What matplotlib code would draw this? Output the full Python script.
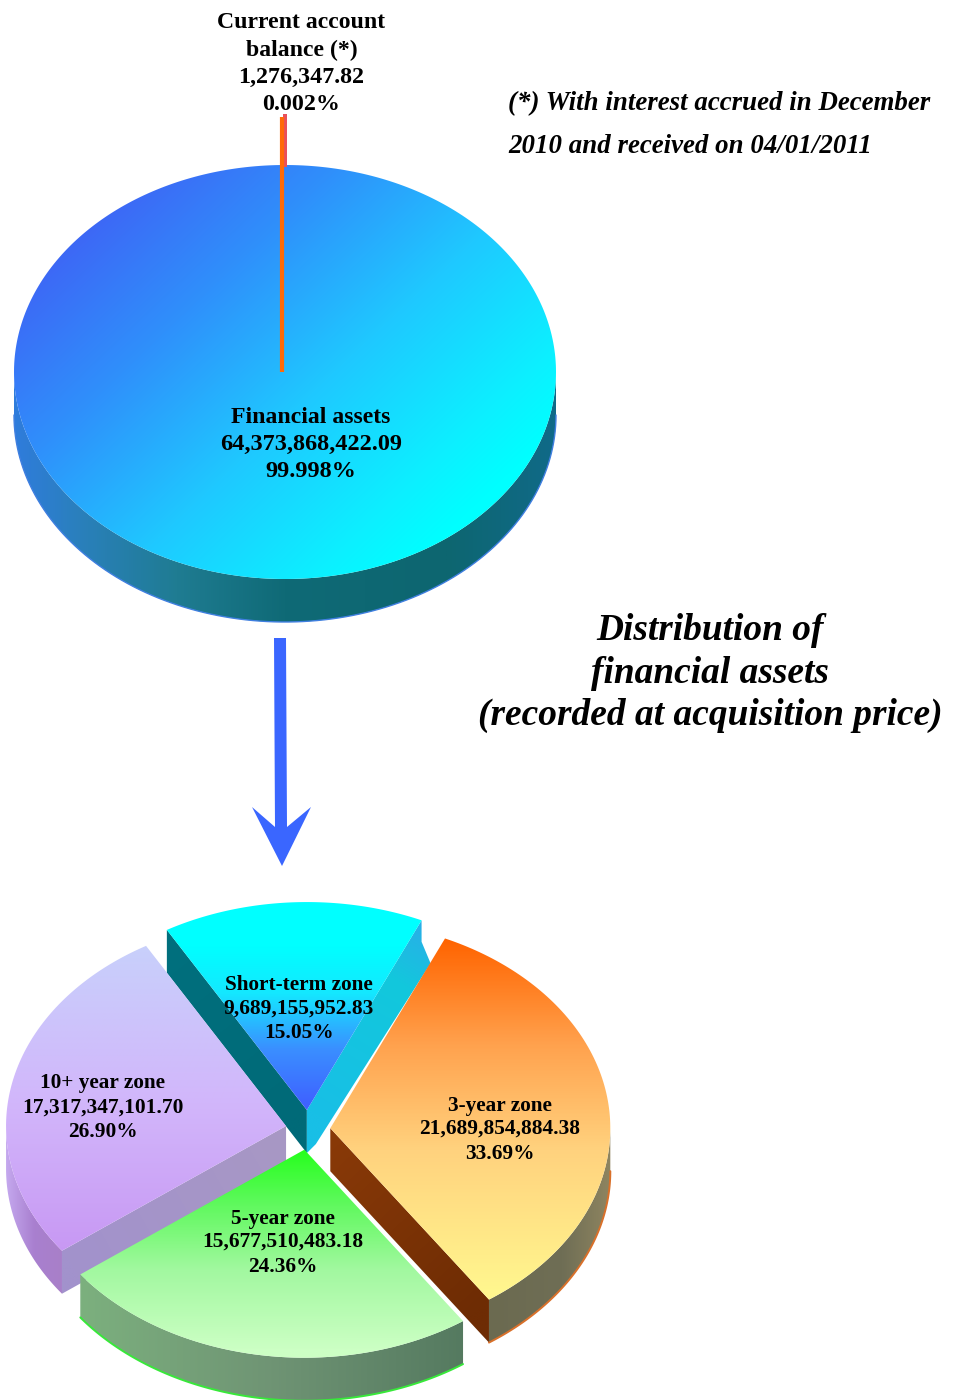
import numpy as np
import matplotlib
matplotlib.use("Agg")
import matplotlib.pyplot as plt
from matplotlib.path import Path
from matplotlib.patches import PathPatch, Polygon
from matplotlib.colors import LinearSegmentedColormap

# ---- data -------------------------------------------------------------
top_categories = ["Financial assets", "Current account\nbalance (*)"]
top_values = [64373868422.09, 1276347.82]
top_shares = ["99.998%", "0.002%"]

zone_categories = ["Short-term zone", "3-year zone", "5-year zone", "10+ year zone"]
zone_values = [9689155952.83, 21689854884.38, 15677510483.18, 17317347101.70]
zone_shares = ["15.05%", "33.69%", "24.36%", "26.90%"]

note_lines = ["(*) With interest accrued in December", "2010 and received on 04/01/2011"]
title_lines = ["Distribution of", "financial assets", "(recorded at acquisition price)"]

# ---- canvas -----------------------------------------------------------
fig = plt.figure(figsize=(9.56, 14.0), dpi=100)
ax = fig.add_axes([0, 0, 1, 1])
ax.axis("off")
SERIF = "Liberation Serif"


def arc(cx, cy, rx, ry, a1, a2, n=120):
    t = np.radians(np.linspace(a1, a2, n))
    return np.column_stack([cx + rx * np.cos(t), cy - ry * np.sin(t)])


def grad(verts, stops, p0, p1, z):
    """Fill a polygon with a linear gradient running from point p0 to p1."""
    verts = np.asarray(verts)
    path = Path(np.vstack([verts, verts[:1]]), closed=True)
    x0, y0 = verts.min(axis=0) - 2
    x1, y1 = verts.max(axis=0) + 2
    xs = np.linspace(x0, x1, max(int(x1 - x0), 2))
    ys = np.linspace(y0, y1, max(int(y1 - y0), 2))
    X, Y = np.meshgrid(xs, ys)
    d = np.array(p1, float) - np.array(p0, float)
    T = ((X - p0[0]) * d[0] + (Y - p0[1]) * d[1]) / (d @ d)
    cmap = LinearSegmentedColormap.from_list("g", [(p, c) for p, c in stops])
    im = ax.imshow(np.clip(T, 0, 1), cmap=cmap, vmin=0, vmax=1, aspect="auto",
                   extent=(x0, x1, y1, y0), origin="upper", zorder=z,
                   interpolation="bilinear")
    patch = PathPatch(path, transform=ax.transData, fc="none", ec="none")
    ax.add_patch(patch)
    im.set_clip_path(patch)


def rim(points, color, z, lw=1.4):
    pts = np.asarray(points)
    ax.plot(pts[:, 0], pts[:, 1], color=color, lw=lw, zorder=z, solid_capstyle="round")


def line_text(x, y, s, size, style="normal", weight="bold", z=30):
    ax.text(x, y, s, family=SERIF, fontsize=size, fontweight=weight, fontstyle=style,
            ha="center", va="baseline", color="black", zorder=z)


# ---- upper pie --------------------------------------------------------
CX, CY, RX, RY, DEPTH = 285, 372, 271, 207, 43
upper_share = top_values[1] / sum(top_values)
front = arc(CX, CY, RX, RY, 180, 360)
wall = np.vstack([front, (front + [0, DEPTH])[::-1]])
grad(wall, [(0, "#2f7cdc"), (0.12, "#2a80bc"), (0.3, "#1f7c92"), (0.5, "#0f6a76"), (0.8, "#0d6670"), (1, "#106a88")],
     (CX - RX, 0), (CX + RX, 0), 2)
rim(front + [0, DEPTH], "#3f7fe0", 2.5, lw=1.0)
disc = arc(CX, CY, RX, RY, 0, 360, 360)
grad(disc, [(0, "#3f62f5"), (0.3, "#2f90fb"), (0.6, "#1fc8ff"), (0.88, "#0cf0ff"), (1, "#00ffff")],
     (85, 205), (420, 560), 3)

# sliver of the current account balance, drawn thicker than its true angle
sliver_deg = 90 + 360 * upper_share
sx = 282
tip_top = arc(sx, CY, 0, RY + 50, sliver_deg, sliver_deg, 1)[0]
ax.fill_between([sx + 1.5, sx + 5], [CY - RY + 2] * 2, [tip_top[1] - 1] * 2, color="#e9505a", lw=0, zorder=4)
ax.plot([sx, sx], [CY, tip_top[1] + 2], color="#ff6a08", lw=3.0, zorder=5, solid_capstyle="butt")

for y, s in zip([28, 56], top_categories[1].split("\n")):
    line_text(301.5, y, s, 17.1)
line_text(301.5, 83, f"{top_values[1]:,.2f}", 17.3)
line_text(301.5, 110, top_shares[1], 17.3)
line_text(311, 423, top_categories[0], 17.1)
line_text(311, 450, f"{top_values[0]:,.2f}", 17.5)
line_text(311, 477, top_shares[0], 17.5)

# ---- arrow ------------------------------------------------------------
ax.add_patch(Polygon([(274, 638), (286, 638), (287, 827), (311, 807), (282, 866), (252, 807),
                      (275, 827)], closed=True, fc="#3a66ff", ec="none", zorder=3))

# ---- notes and title --------------------------------------------------
ax.text(508, 110, note_lines[0], family=SERIF, fontsize=19.35, fontweight="bold", fontstyle="italic",
        ha="left", va="baseline")
ax.text(508, 153, note_lines[1], family=SERIF, fontsize=19.35, fontweight="bold", fontstyle="italic",
        ha="left", va="baseline")
for y, s in zip([640, 683, 725], title_lines):
    line_text(710, y, s, 26.9, style="italic")

# ---- lower pie --------------------------------------------------------
CX2, CY2, RX2, RY2, D2 = 308, 1130, 280, 208, 43
EXPL_X, EXPL_Y = 0.08, 0.096
START = 120.0
shares = np.array(zone_values) / sum(zone_values)
spans = 360 * shares
ends = START - np.cumsum(spans)
starts = ends + spans


def wedge_geom(i):
    a1, a2 = starts[i], ends[i]
    mid = np.radians((a1 + a2) / 2)
    cx = CX2 + EXPL_X * RX2 * np.cos(mid)
    cy = CY2 - EXPL_Y * RY2 * np.sin(mid)
    return cx, cy, a1, a2


def top_face(i):
    cx, cy, a1, a2 = wedge_geom(i)
    return np.vstack([[[cx, cy]], arc(cx, cy, RX2, RY2, a1, a2)])


def cut_wall(i, angle, stops, z, flare=0.0):
    cx, cy, *_ = wedge_geom(i)
    corner = arc(cx, cy, RX2, RY2, angle, angle, 1)[0]
    v = [(cx, cy), corner, corner + [0, D2 / 2], corner + [flare, D2]]
    if flare:
        v.append((cx + flare, cy + D2 - 9))
    v.append((cx, cy + D2))
    grad(v, stops, (cx, cy), corner, z)


def outer_wall(i, a1, a2, stops, z, rimcolor=None):
    cx, cy, *_ = wedge_geom(i)
    a = arc(cx, cy, RX2, RY2, a1, a2)
    b = a + [0, D2]
    grad(np.vstack([a, b[::-1]]), stops, (a[:, 0].min(), 0), (a[:, 0].max() + 1, 0), z)
    if rimcolor:
        rim(b, rimcolor, z + 0.5)


# short-term (back)
_, _, a1, a2 = wedge_geom(0)
cut_wall(0, a1, [(0, "#006a78"), (1, "#00707e")], 5)
cut_wall(0, a2, [(0, "#18bfe6"), (0.7, "#12c8dc"), (1, "#2aaee8")], 5, flare=9)
grad(top_face(0), [(0, "#00ffff"), (0.3, "#14e8ff"), (0.65, "#3a8fff"), (1, "#3f62ff")], (0, 945), (0, 1105), 6)

# 10+ year (left)
_, _, a1, a2 = wedge_geom(3)
cut_wall(3, a1 + 360, [(0, "#a898c4"), (1, "#a292cc")], 7)
outer_wall(3, 180, a1 + 360, [(0, "#c4a8ee"), (0.5, "#a97fcf"), (1, "#a880c8")], 7)
grad(top_face(3), [(0, "#c8d0fb"), (0.5, "#d2b6fb"), (1, "#c796f3")], (0, 945), (0, 1262), 8)

# 3-year (right)
_, _, a1, a2 = wedge_geom(1)
cut_wall(1, a2, [(0, "#8a3a08"), (1, "#6e2c04")], 9)
outer_wall(1, a2, 0, [(0, "#6b6a50"), (0.6, "#6f6e55"), (1, "#8f8560")], 9, rimcolor="#d9702a")
grad(top_face(1), [(0, "#ff6400"), (0.3, "#ffa24e"), (0.6, "#ffd27e"), (1, "#fff68e")], (0, 940), (0, 1290), 10)

# 5-year (front)
_, _, a1, a2 = wedge_geom(2)
outer_wall(2, a1 + 0, a2, [(0, "#7cb07e"), (0.5, "#6f9474"), (1, "#557a60")], 11, rimcolor="#38e83a")
grad(top_face(2), [(0, "#27ff1e"), (0.25, "#5cf95a"), (0.6, "#a2f8a0"), (1, "#ccffc4")], (0, 1150), (0, 1350), 12)

label_pos = {
    0: (299, [990, 1014, 1038]),
    1: (500, [1111, 1134, 1159]),
    2: (283, [1224, 1247, 1272]),
    3: (103, [1088, 1113, 1137]),
}
for i, (x, ys) in label_pos.items():
    line_text(x, ys[0], zone_categories[i], 15.3)
    line_text(x, ys[1], f"{zone_values[i]:,.2f}", 15.4)
    line_text(x, ys[2], zone_shares[i], 15.4)

ax.set_xlim(0, 956)
ax.set_ylim(1400, 0)
fig.savefig("out.png", dpi=100, facecolor="white")
